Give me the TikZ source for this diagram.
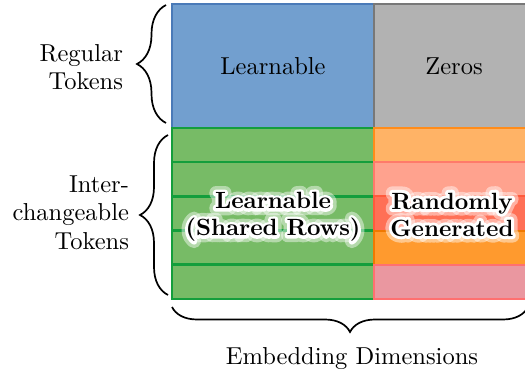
\documentclass[tikz,border=0pt]{standalone}
\usepackage{fontspec}
\IfFontExistsTF{lmroman10-regular.otf}
  {\setmainfont{lmroman10-regular.otf}[BoldFont=lmroman10-bold.otf]}
  {}
\usetikzlibrary{positioning,decorations.pathreplacing}

\definecolor{lrnblue}{RGB}{114,159,207}
\definecolor{lrnblueD}{RGB}{74,122,184}
\definecolor{zerogray}{RGB}{178,178,178}
\definecolor{zerograyD}{RGB}{120,120,120}
\definecolor{shgreen}{RGB}{119,187,102}
\definecolor{shgreenD}{RGB}{20,158,60}
\definecolor{rndA}{RGB}{255,179,102}
\definecolor{rndAD}{RGB}{255,140,26}
\definecolor{rndB}{RGB}{255,162,142}
\definecolor{rndBD}{RGB}{255,122,106}
\definecolor{rndC}{RGB}{255,112,86}
\definecolor{rndCD}{RGB}{255,90,60}
\definecolor{rndD}{RGB}{255,154,46}
\definecolor{rndDD}{RGB}{240,120,0}
\definecolor{rndE}{RGB}{234,151,160}
\definecolor{rndED}{RGB}{255,112,112}

% white stroked copy of a text (the glow)
\newcommand{\glowonly}[2]{\special{pdf:literal direct 2 Tr 1 1 1 RG 1 1 1 rg #1 w 1 j 1 J}#2\special{pdf:literal direct 0 Tr 0 0 0 RG 0 0 0 rg}}
% black text over a narrow white glow
\newcommand{\halo}[1]{\leavevmode\rlap{\glowonly{6}{#1}}#1}

\begin{document}
\begin{tikzpicture}[x=1pt,y=-1pt]
\tikzset{ cell/.style={draw, line width=2pt, inner sep=0pt, outer sep=0pt, anchor=north west,
                       font=\fontsize{24.5}{28.5}\selectfont},
          lbl/.style={font=\fontsize{24.5}{28.5}\selectfont, inner sep=0pt, outer sep=0pt},
          boldlbl/.style={font=\fontsize{23.5}{27}\selectfont\bfseries, align=center, inner sep=0pt},
          tokbrace/.style={decorate, decoration={brace, amplitude=#1}, line width=1.7pt},
        }
\useasboundingbox (0,0) rectangle (525,374);

% regular tokens
\node [cell, fill=lrnblue, draw=lrnblueD, minimum width=202pt, minimum height=124pt] (reglearn) at (172,4) {Learnable};
\node [cell, fill=zerogray, draw=zerograyD, minimum width=160pt, minimum height=124pt] (regzero) at (374,4) {Zeros};

% interchangeable tokens
\foreach \i in {0,...,4}
  \node [cell, fill=shgreen, draw=shgreenD, line width=2.6pt, minimum width=202pt, minimum height=34.2pt] (sh\i) at (172,{128+34.2*\i}) {};
\foreach \i/\f/\d in {0/rndA/rndAD, 1/rndB/rndBD, 2/rndC/rndCD, 3/rndD/rndDD, 4/rndE/rndED}
  \node [cell, fill=\f, draw=\d, minimum width=160pt, minimum height=34.2pt] (rnd\i) at (374,{128+34.2*\i}) {};

% soft outer glow, then the texts
\node [boldlbl, opacity=0.45] (shglow) at (273,217) {\glowonly{13}{Learnable}\\\glowonly{13}{(Shared Rows)}};
\node [boldlbl, opacity=0.45] (rndglow) at (452,214.5) {\glowonly{13}{Randomly}\\\glowonly{13}{Generated}};
\node [boldlbl] (shtxt) at (273,217) {\halo{Learnable}\\\halo{(Shared Rows)}};
\node [boldlbl] (rndtxt) at (452,214.5) {\halo{Randomly}\\\halo{Generated}};

% braces
\coordinate (regbot) at (166,123);
\coordinate (regtop) at (166,5);
\coordinate (intbot) at (168,295);
\coordinate (inttop) at (168,135);
\coordinate (embR) at (528,307);
\coordinate (embL) at (172,307);
\draw [tokbrace=29pt] (regbot) -- (regtop);
\draw [tokbrace=28pt] (intbot) -- (inttop);
\draw [tokbrace=25pt] (embR) -- (embL);

\node [lbl, align=right, anchor=east] (regtok) at (123,67.3) {Regular\\Tokens};
\node [lbl, align=right, anchor=east] (inttok) at (129,212.5) {Inter-\\changeable\\Tokens};
\node [lbl, anchor=base] (embdim) at (352,364) {Embedding Dimensions};

\end{tikzpicture}
\end{document}
